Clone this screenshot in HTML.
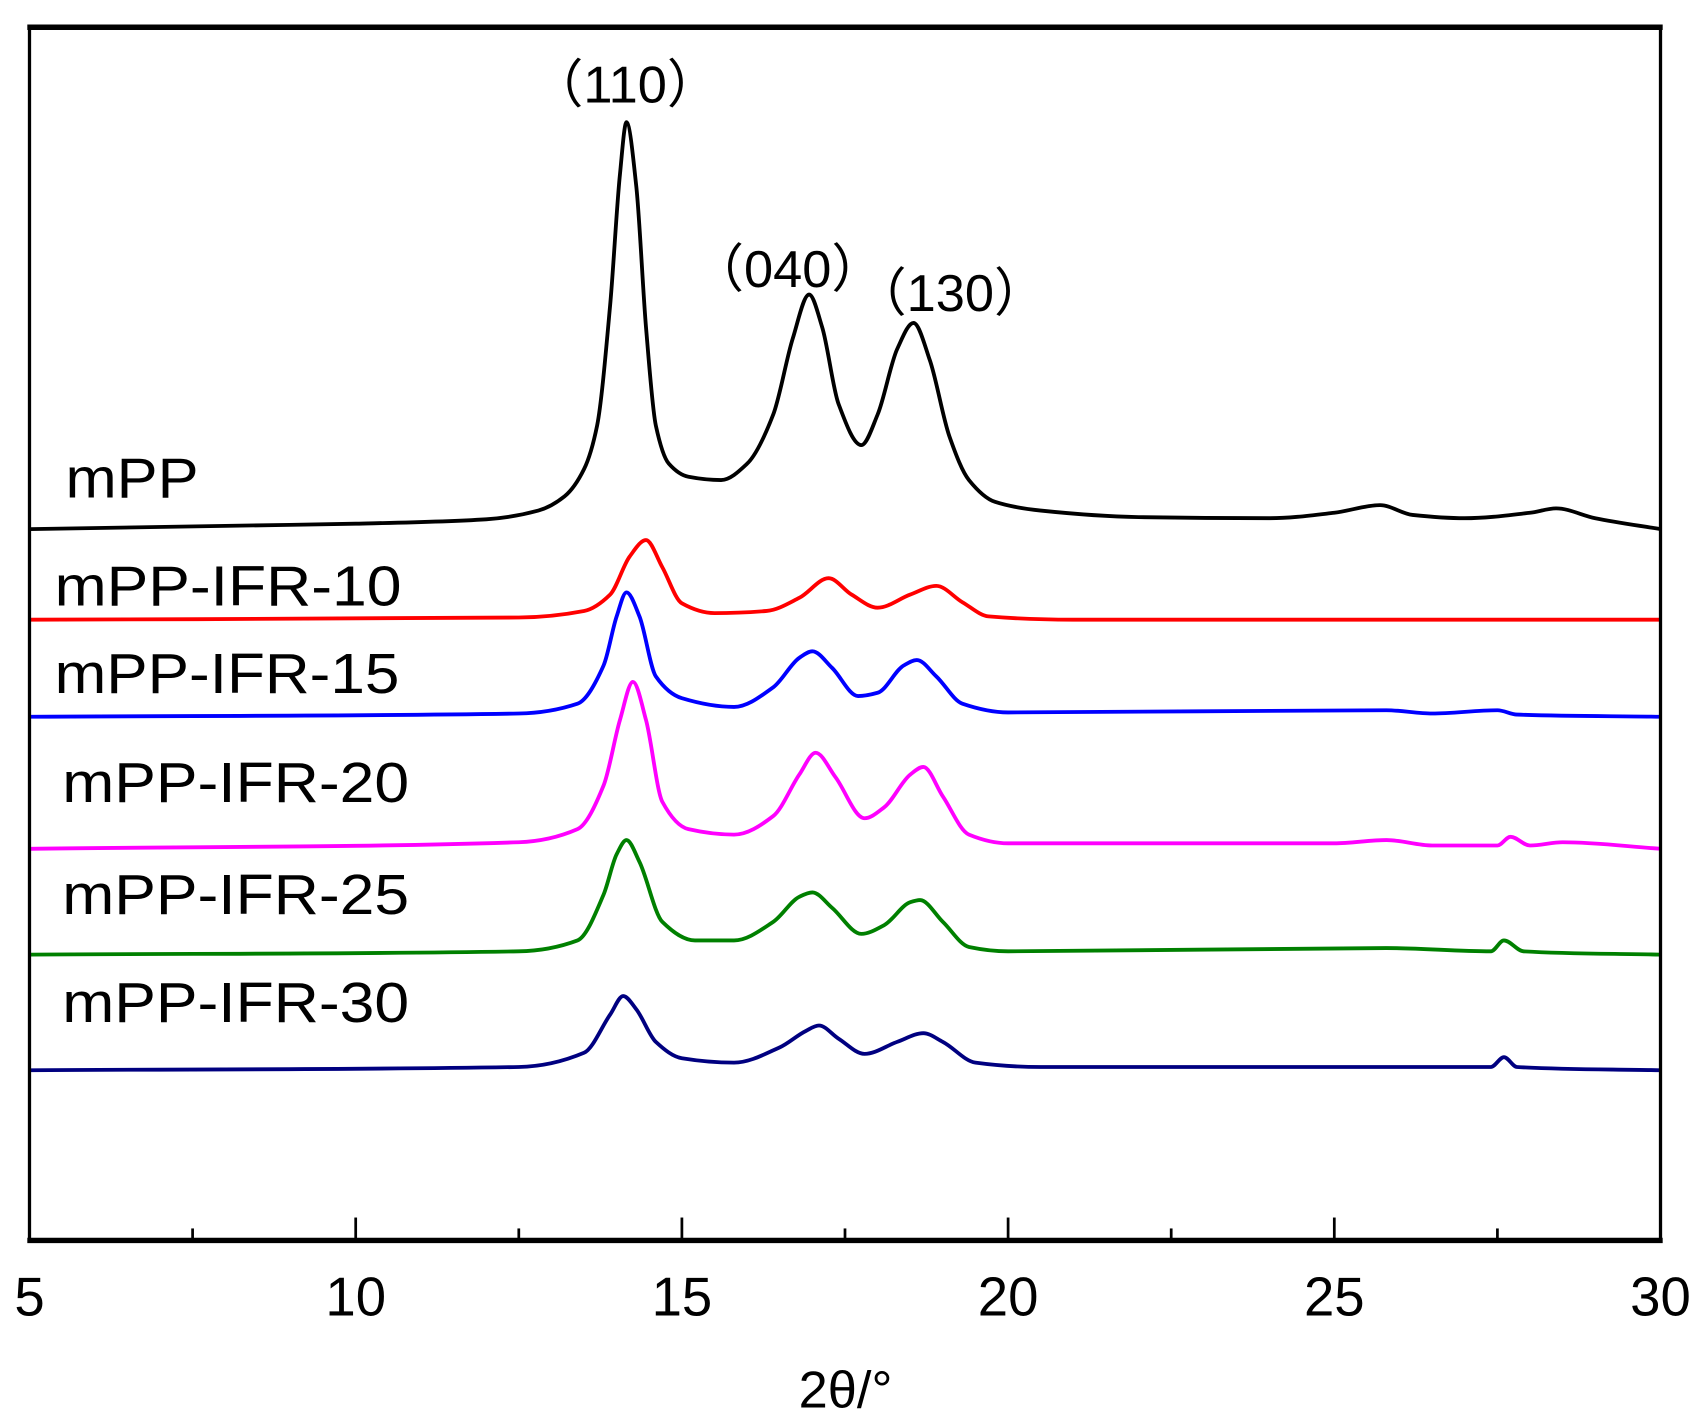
<!DOCTYPE html>
<html><head><meta charset="utf-8"><style>
html,body{margin:0;padding:0;background:#fff;}
svg{display:block;}
text{font-family:"Liberation Sans","Noto Sans CJK SC",sans-serif;fill:#000;}
</style></head><body>
<svg id="chart" width="1702" height="1427" viewBox="0 0 1560 1308" xmlns="http://www.w3.org/2000/svg">
<rect x="0" y="0" width="1560" height="1308" fill="#fff"/>
<g id="series"></g>
<rect x="27" y="25" width="1495" height="1112" fill="none" stroke="#000" stroke-width="3"/>
<line x1="25" y1="25" x2="1524" y2="25" stroke="#000" stroke-width="5"/>
<line x1="25" y1="1137" x2="1524" y2="1137" stroke="#000" stroke-width="5"/>
<g id="ticks"></g>
<text x="775" y="1290" font-size="48" text-anchor="middle">2θ/°</text>
<text x="573" y="94" font-size="48" text-anchor="middle">（110）</text>
<text x="722" y="263" font-size="48" text-anchor="middle">（040）</text>
<text x="871" y="285" font-size="48" text-anchor="middle">（130）</text>
<g id="labels"></g>
</svg>
<script>
const xTicks = [5, 10, 15, 20, 25, 30];
const xMinor = [7.5, 12.5, 17.5, 22.5, 27.5];
const seriesNames = ["mPP", "mPP-IFR-10", "mPP-IFR-15", "mPP-IFR-20", "mPP-IFR-25", "mPP-IFR-30"];
const seriesColors = ["#000000", "#ff0000", "#0000ff", "#ff00ff", "#008000", "#000080"];
const mppX = [5,8,10,12,12.8,13.2,13.5,13.7,13.9,14.05,14.15,14.3,14.45,14.6,14.8,15.1,15.6,16.0,16.4,16.7,16.95,17.15,17.4,17.75,18.0,18.3,18.55,18.8,19.1,19.4,19.8,20.5,22,24,25,25.7,26.2,27,28.0,28.4,29,30];
const mppY = [652,655,657,661,669,682,707,747,857,977,1025,967,837,747,712,700,697,712,757,827,867,837,767,729,757,817,841,807,737,697,677,669,663,662,667,674,665,662,667,671,662,652];
const ifr10X = [5,12.5,13.5,13.9,14.2,14.45,14.7,15.0,15.5,16.3,16.8,17.25,17.6,18.0,18.5,18.9,19.3,19.7,21,30];
const ifr10Y = [569,571,577,592,627,642,617,584,575,577,589,607,592,580,592,600,585,572,569,569];
const ifr15X = [5,12.5,13.4,13.8,14.0,14.15,14.35,14.6,15.0,15.8,16.4,16.8,17.0,17.3,17.7,18.0,18.4,18.6,18.9,19.3,20,25.8,26.5,27.5,27.8,30];
const ifr15Y = [480,483,492,527,572,594,572,517,497,489,507,534,540,525,499,502,527,532,517,492,484,486,483,486,482,480];
const ifr20X = [5,12.5,13.4,13.8,14.05,14.25,14.45,14.7,15.1,15.8,16.4,16.8,17.05,17.35,17.8,18.1,18.5,18.7,19.0,19.4,20,25.0,25.8,26.5,27.5,27.7,28,28.5,30];
const ifr20Y = [359,365,377,417,477,512,477,402,377,372,389,427,447,425,387,397,427,434,407,372,364,364,367,362,362,370,362,365,359];
const ifr25X = [5,12.5,13.4,13.8,14.0,14.15,14.35,14.7,15.2,15.8,16.4,16.8,17.0,17.3,17.75,18.1,18.5,18.65,19.0,19.4,20,25.8,27.4,27.6,27.9,30];
const ifr25Y = [262,265,275,317,354,367,347,292,275,275,292,315,319,305,281,289,310,312,292,269,265,268,265,275,265,262];
const ifr30X = [5,12.5,13.5,13.9,14.1,14.3,14.6,15.0,15.8,16.5,16.9,17.1,17.4,17.8,18.3,18.7,19.0,19.5,20.5,25,27.4,27.6,27.8,30];
const ifr30Y = [156,159,172,207,224,212,182,167,163,177,192,197,185,171,182,190,182,163,159,159,159,168,159,156];

const NS = "http://www.w3.org/2000/svg";
const X0 = 27, X1 = 1522, Y0 = 1137, Y1 = 25;
function xs(t){ return X0 + (t - 5) / 25 * (X1 - X0); }
function ys(v){ return Y0 - v / 1112 * (Y0 - Y1); }
function monotonePath(p){
  const n = p.length, dx = [], m = [], t = [];
  for (let i = 0; i < n - 1; i++) { dx[i] = p[i+1][0] - p[i][0]; m[i] = (p[i+1][1] - p[i][1]) / dx[i]; }
  t[0] = m[0]; t[n-1] = m[n-2];
  for (let i = 1; i < n - 1; i++) {
    if (m[i-1] * m[i] <= 0) t[i] = 0;
    else { const w1 = 2*dx[i] + dx[i-1], w2 = dx[i] + 2*dx[i-1]; t[i] = (w1 + w2) / (w1 / m[i-1] + w2 / m[i]); }
  }
  let d = "M" + p[0][0].toFixed(1) + "," + p[0][1].toFixed(1);
  for (let i = 0; i < n - 1; i++) {
    const h = dx[i] / 3;
    d += " C" + (p[i][0] + h).toFixed(1) + "," + (p[i][1] + t[i]*h).toFixed(1) + " " + (p[i+1][0] - h).toFixed(1) + "," + (p[i+1][1] - t[i+1]*h).toFixed(1) + " " + p[i+1][0].toFixed(1) + "," + p[i+1][1].toFixed(1);
  }
  return d;
}

const allX = [mppX, ifr10X, ifr15X, ifr20X, ifr25X, ifr30X];
const allY = [mppY, ifr10Y, ifr15Y, ifr20Y, ifr25Y, ifr30Y];
const labelPos = [[60,456,122],[50,555,318],[50,635,316],[57,735,318],[57,838,318],[57,937,318]];
const sg = document.getElementById("series");
const lg = document.getElementById("labels");
for (let i = 0; i < allX.length; i++) {
  const pts = allX[i].map((t, j) => [xs(t), ys(allY[i][j])]);
  const pl = document.createElementNS(NS, "path");
  pl.setAttribute("d", monotonePath(pts));
  pl.setAttribute("fill", "none");
  pl.setAttribute("stroke", seriesColors[i]);
  pl.setAttribute("stroke-width", "3.5");
  pl.setAttribute("stroke-linejoin", "round");
  
  
  sg.appendChild(pl);
  const tx = document.createElementNS(NS, "text");
  tx.setAttribute("x", labelPos[i][0]);
  tx.setAttribute("y", labelPos[i][1]);
  tx.setAttribute("font-size", "52");
  tx.setAttribute("textLength", labelPos[i][2]);
  tx.setAttribute("lengthAdjust", "spacingAndGlyphs");
  tx.textContent = seriesNames[i];
  
  
  lg.appendChild(tx);
}
const tg = document.getElementById("ticks");
xTicks.forEach(t => {
  const l = document.createElementNS(NS, "line");
  l.setAttribute("x1", xs(t)); l.setAttribute("x2", xs(t));
  l.setAttribute("y1", Y0); l.setAttribute("y2", Y0 - 21);
  l.setAttribute("stroke", "#000"); l.setAttribute("stroke-width", "2.5");
  
  
  tg.appendChild(l);
  const tx = document.createElementNS(NS, "text");
  tx.setAttribute("x", xs(t)); tx.setAttribute("y", 1206);
  tx.setAttribute("font-size", "50"); tx.setAttribute("text-anchor", "middle");
  tx.textContent = t;
  
  
  tg.appendChild(tx);
});
xMinor.forEach(t => {
  const l = document.createElementNS(NS, "line");
  l.setAttribute("x1", xs(t)); l.setAttribute("x2", xs(t));
  l.setAttribute("y1", Y0); l.setAttribute("y2", Y0 - 11);
  l.setAttribute("stroke", "#000"); l.setAttribute("stroke-width", "2.5");
  
  
  tg.appendChild(l);
});
</script>
</body></html>
